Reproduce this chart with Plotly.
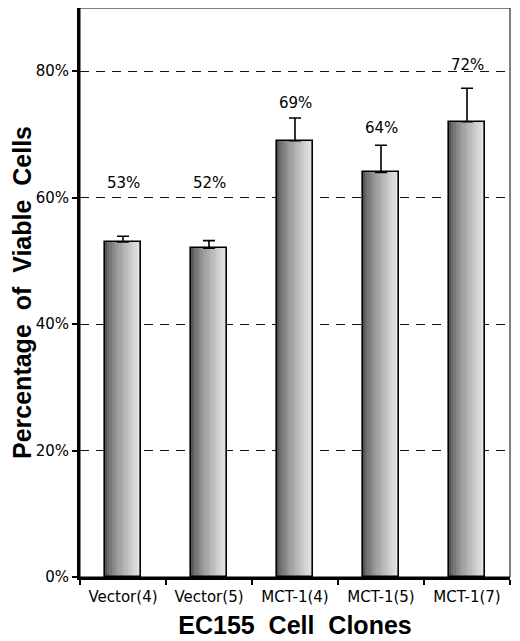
import plotly.graph_objects as go

# Dados
clones = ["Vector(4)", "Vector(5)", "MCT-1(4)", "MCT-1(5)", "MCT-1(7)"]
viaveis = [53, 52, 69, 64, 72]
erro = [0.9, 1.2, 3.6, 4.3, 5.3]
rotulos = ["53%", "52%", "69%", "64%", "72%"]
rotulo_y = [62.3, 62.3, 75, 71, 81]
y_ticks = [0, 20, 40, 60, 80]
y_ticktext = ["0%", "20%", "40%", "60%", "80%"]

fonte = "DejaVu Sans"
largura = 0.42
n_fatias = 16

fig = go.Figure()

# Barras com degradê (fatias verticais do escuro para o claro)
for i in range(n_fatias):
    t = i / (n_fatias - 1)
    g = int(85 + (232 - 85) * t ** 0.7)
    fig.add_trace(go.Bar(
        x=clones, y=viaveis,
        width=largura / n_fatias + 0.002,
        offset=-largura / 2 + i * largura / n_fatias,
        marker=dict(color=f"rgb({g},{g},{g})", line=dict(width=0)),
        showlegend=False, hoverinfo="skip",
    ))

# Contorno + barras de erro
fig.add_trace(go.Bar(
    x=clones, y=viaveis,
    width=largura, offset=-largura / 2,
    marker=dict(color="rgba(0,0,0,0)", line=dict(color="black", width=1.6)),
    error_y=dict(type="data", array=erro, arrayminus=[0] * len(erro),
                 symmetric=False, color="black", thickness=1.6, width=6),
    showlegend=False,
))

# Rótulos de porcentagem
for c, txt, yy in zip(clones, rotulos, rotulo_y):
    fig.add_annotation(x=c, y=yy, text=txt, showarrow=False,
                       font=dict(family=fonte, size=15, color="black"))

# a página tem 8px de margem no body, por isso l/t menores
fig.update_layout(
    width=520, height=641,
    margin=dict(l=72, r=18, t=0, b=72),
    paper_bgcolor="white", plot_bgcolor="white",
    barmode="overlay", bargap=0,
    font=dict(family=fonte, color="black"),
    shapes=[dict(type="rect", xref="paper", yref="paper", x0=0, x1=1, y0=0, y1=1,
                 line=dict(color="black", width=1), layer="above")],
)

fig.update_yaxes(
    range=[0, 90], tickvals=y_ticks, ticktext=y_ticktext,
    showline=True, linecolor="black", linewidth=3,
    ticks="outside", ticklen=5, tickwidth=2, tickcolor="black",
    tickfont=dict(family=fonte, size=15, color="black"),
    showgrid=True, gridcolor="#111", gridwidth=1, griddash="9px,7px",
    zeroline=False,
    title=dict(text="Percentage  of  Viable  Cells", standoff=2,
               font=dict(family="Liberation Sans", size=25, color="black", weight="bold")),
)
fig.update_xaxes(
    showline=True, linecolor="black", linewidth=3,
    ticks="outside", tickson="boundaries", ticklen=5, tickwidth=2, tickcolor="black",
    tickfont=dict(family=fonte, size=15, color="black"),
    ticklabelstandoff=4,
    showgrid=False,
    title=dict(text="EC155  Cell  Clones", standoff=12,
               font=dict(family="Liberation Sans", size=25, color="black", weight="bold")),
)

fig.write_html("out.html")
